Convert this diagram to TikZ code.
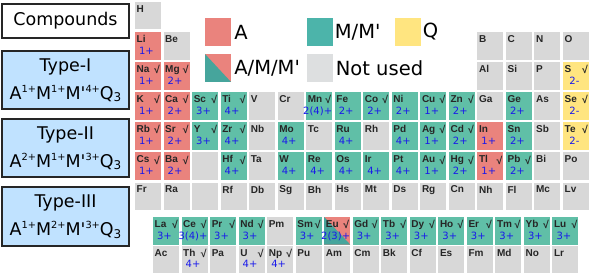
\documentclass[tikz,border=0pt]{standalone}
\usepackage{fontspec}
\setmainfont{DejaVu Sans}
\newfontfamily\elfont{Liberation Sans}
\usetikzlibrary{positioning}

\definecolor{acol}{RGB}{234,131,125}
\definecolor{mcol}{RGB}{96,191,167}
\definecolor{mkey}{RGB}{76,180,170}
\definecolor{qcol}{RGB}{255,229,128}
\definecolor{ncol}{RGB}{216,216,216}
\definecolor{nkey}{RGB}{221,223,224}
\definecolor{boxcol}{RGB}{192,226,255}
\definecolor{oxcol}{RGB}{25,25,235}

\newcommand{\mq}{\textquotesingle}
\newcommand{\sps}[1]{\raisebox{7pt}{\fontsize{9.8}{10}\selectfont#1}}
\newcommand{\sbs}[1]{\raisebox{-2.5pt}{\fontsize{12}{12}\selectfont#1}}

\tikzset{
  cell/.style={minimum width=26pt,minimum height=27.5pt,inner sep=0pt,outer sep=0pt},
  acell/.style={fill=acol}, mcell/.style={fill=mcol},
  qcell/.style={fill=qcol}, ncell/.style={fill=ncol},
  split/.style={path picture={
    \fill[acol] (path picture bounding box.north west) rectangle (path picture bounding box.south east);
    \fill[mkey!92!black] (path picture bounding box.north west) -- (path picture bounding box.south west) -- (path picture bounding box.south east) -- cycle;}},
  sym/.style={anchor=north west,inner sep=0pt,xshift=1.5pt,yshift=-3pt,text=black!85,
    font=\elfont\fontsize{10}{11}\selectfont\bfseries},
  tick/.style={anchor=north east,inner sep=0pt,xshift=-0.8pt,yshift=-3pt,text=black!85,
    font=\elfont\fontsize{10.5}{11}\selectfont\bfseries},
  ox/.style={anchor=base,inner sep=0pt,xshift=-1.5pt,yshift=5.5pt,text=oxcol,
    font=\fontsize{10}{10}\selectfont},
  typebox/.style={draw=black!85,line width=1.6pt,fill=boxcol,minimum width=127.5pt,
    align=center,font=\fontsize{17.5}{28}\selectfont},
  key/.style={minimum width=26pt,minimum height=28pt,inner sep=0pt},
  keytext/.style={inner sep=0pt,font=\fontsize{19.5}{20}\selectfont}
}

% col, row, symbol, style, tick, oxidation
\newcommand{\elem}[6]{%
  \node[cell,#4] (#3) at ({148+(#1-1)*28.53},{15.75+(#2-1)*30.1}) {};
  \node[sym] (#3-s) at (#3.north west) {#3};
  \if\relax\detokenize{#5}\relax\else\node[tick] (#3-t) at (#3.north east) {#5};\fi
  \if\relax\detokenize{#6}\relax\else\node[ox] (#3-o) at (#3.south) {#6};\fi
}

\begin{document}
\begin{tikzpicture}[x=1pt,y=-1pt]
\useasboundingbox (0,0) rectangle (589,275);

% compound types
\node[typebox,fill=white,minimum height=34.5pt] (cmpd) at (65.5,21) {Compounds};
\node[typebox,minimum height=58.5pt] (type1) at (65.5,80)
  {Type-I\\A\sps{1+}M\sps{1+}M\mq\sps{4+}Q\sbs{3}};
\node[typebox,minimum height=58.5pt] (type2) at (65.5,148)
  {Type-II\\A\sps{2+}M\sps{1+}M\mq\sps{3+}Q\sbs{3}};
\node[typebox,minimum height=59.5pt] (type3) at (65.5,216.5)
  {Type-III\\A\sps{1+}M\sps{2+}M\mq\sps{3+}Q\sbs{3}};

% legend
\node[key,fill=acol] (keyA) at (218,32) {};
\node[key,split] (keyS) at (218,68) {};
\node[key,fill=mkey] (keyM) at (319.5,32) {};
\node[key,fill=nkey] (keyN) at (319.5,68) {};
\node[key,fill=qcol] (keyQ) at (407.5,32) {};
\node[keytext,right=3pt of keyA] (labA) {A};
\node[keytext,right=3pt of keyS] (labS) {A/M/M\mq};
\node[keytext,right=2pt of keyM] (labM) {M/M\mq};
\node[keytext,right=3pt of keyN] (labN) {Not used};
\node[keytext,right=2pt of keyQ] (labQ) {Q};

% not used
\foreach \c/\r/\s in {1/1/H, 2/2/Be, 13/2/B, 14/2/C, 15/2/N, 16/2/O, 13/3/Al, 14/3/Si, 15/3/P,
  5/4/V, 6/4/Cr, 13/4/Ga, 15/4/As, 5/5/Nb, 7/5/Tc, 9/5/Rh, 15/5/Sb, 5/6/Ta, 15/6/Bi, 16/6/Po,
  1/7/Fr, 2/7/Ra, 4/7/Rf, 5/7/Db, 6/7/Sg, 7/7/Bh, 8/7/Hs, 9/7/Mt, 10/7/Ds, 11/7/Rg, 12/7/Cn,
  13/7/Nh, 14/7/Fl, 15/7/Mc, 16/7/Lv}
  {\elem{\c}{\r}{\s}{ncell}{}{}}
\node[cell,ncell] (gap6) at ({148+2*28.53},{15.75+5*30.1}) {};
\node[cell,ncell] (gap7) at ({148+2*28.53},{15.75+6*30.1}) {};

% used, with tick
\foreach \c/\r/\s/\k/\o in {1/3/Na/acell/1+, 2/3/Mg/acell/2+, 16/3/S/qcell/2-,
  1/4/K/acell/1+, 2/4/Ca/acell/2+, 3/4/Sc/mcell/3+, 4/4/Ti/mcell/4+, 7/4/Mn/mcell/2(4)+,
  9/4/Co/mcell/2+, 11/4/Cu/mcell/1+, 12/4/Zn/mcell/2+, 16/4/Se/qcell/2-,
  1/5/Rb/acell/1+, 2/5/Sr/acell/2+, 3/5/Y/mcell/3+, 4/5/Zr/mcell/4+, 11/5/Ag/mcell/1+,
  12/5/Cd/mcell/2+, 16/5/Te/qcell/2-,
  1/6/Cs/acell/1+, 2/6/Ba/acell/2+, 4/6/Hf/mcell/4+, 11/6/Au/mcell/1+, 12/6/Hg/mcell/2+,
  13/6/Tl/acell/1+, 14/6/Pb/mcell/2+}
  {\elem{\c}{\r}{\s}{\k}{√}{\o}}

% used, no tick
\foreach \c/\r/\s/\k/\o in {1/2/Li/acell/1+, 8/4/Fe/mcell/2+, 10/4/Ni/mcell/2+,
  14/4/Ge/mcell/2+, 6/5/Mo/mcell/4+, 8/5/Ru/mcell/4+, 10/5/Pd/mcell/4+, 13/5/In/acell/1+,
  14/5/Sn/mcell/2+, 6/6/W/mcell/4+, 7/6/Re/mcell/4+, 8/6/Os/mcell/4+, 9/6/Ir/mcell/4+,
  10/6/Pt/mcell/4+}
  {\elem{\c}{\r}{\s}{\k}{}{\o}}

% lanthanides and actinides
\foreach \i/\s/\k/\o in {0/La/mcell/3+, 1/Ce/mcell/3(4)+, 2/Pr/mcell/3+, 3/Nd/mcell/3+,
  5/Sm/mcell/3+, 6/Eu/split/2(3)+, 7/Gd/mcell/3+, 8/Tb/mcell/3+, 9/Dy/mcell/3+,
  10/Ho/mcell/3+, 11/Er/mcell/3+, 12/Tm/mcell/3+, 13/Yb/mcell/3+, 14/Lu/mcell/3+}
  {\elem{1.631+\i}{8.143}{\s}{\k}{√}{\o}}
\elem{1.631+4}{8.143}{Pm}{ncell}{}{}
\foreach \i/\s in {1/Th, 3/U, 4/Np}
  {\elem{1.631+\i}{9.106}{\s}{ncell}{√}{4+}}
\foreach \i/\s in {0/Ac, 2/Pa, 5/Pu, 6/Am, 7/Cm, 8/Bk, 9/Cf, 10/Es, 11/Fm, 12/Md,
  13/No, 14/Lr}
  {\elem{1.631+\i}{9.106}{\s}{ncell}{}{}}
\end{tikzpicture}
\end{document}
